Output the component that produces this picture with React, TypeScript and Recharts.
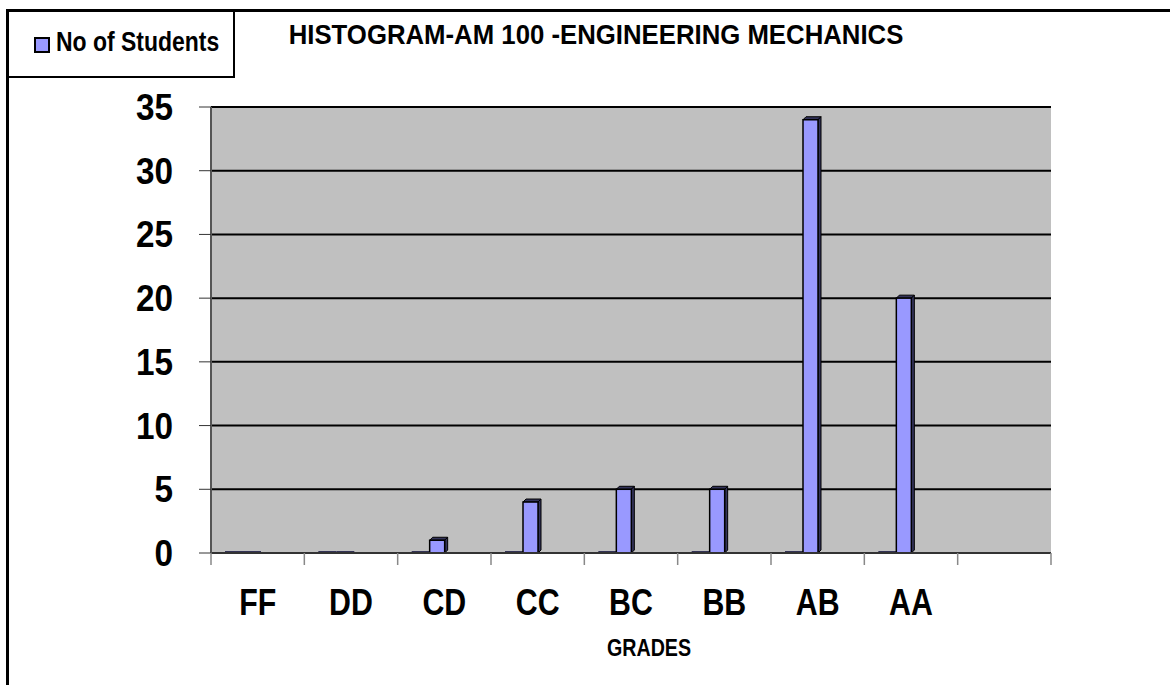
import React from 'react';
import { BarChart, Bar, XAxis, YAxis, CartesianGrid } from 'recharts';

const grades = ['FF', 'DD', 'CD', 'CC', 'BC', 'BB', 'AB', 'AA', ''];
const baseline = [0, 0, 0, 0, 0, 0, 0, 0, null];
const students = [0, 0, 1, 4, 5, 5, 34, 20, null];
const yTicks = [0, 5, 10, 15, 20, 25, 30, 35];

const data = grades.map((g, i) => ({ grade: g, base: baseline[i], students: students[i] }));

const FONT = '"Liberation Sans", Arial, sans-serif';
const W = 1170;
const H = 685;
const PLOT_LEFT = 211;
const PLOT_RIGHT = 1051;
const PLOT_TOP = 107;
const PLOT_BOTTOM = 553;
const Y_AXIS_W = 60;
const X_AXIS_H = 70;
const BAND = (PLOT_RIGHT - PLOT_LEFT) / grades.length;
const SHIFT = -15; // excel 3d offset
const DEPTH = 3;

// no arial narrow installed, so squeeze arial horizontally
const NarrowText = ({ x, y, size, anchor = 'middle', squeeze = 0.82, children }: any) => (
  <text
    transform={`translate(${x},${y}) scale(${squeeze},1)`}
    textAnchor={anchor}
    fontFamily={FONT}
    fontWeight="bold"
    fontSize={size}
    fill="#000"
  >
    {children}
  </text>
);

const Bar3D = (props: any) => {
  const { x, y, width, height, value } = props;
  if (value === null || value === undefined) return null;
  const bx = x + SHIFT;
  if (!height || height < 1) {
    return <rect x={bx} y={y - 2} width={width} height={2} fill="#333355" />;
  }
  const fw = width - DEPTH;
  return (
    <g>
      <polygon
        points={`${bx},${y} ${bx + DEPTH},${y - DEPTH} ${bx + fw + DEPTH},${y - DEPTH} ${bx + fw},${y}`}
        fill="#33335a" stroke="#000" strokeWidth={1}
      />
      <polygon
        points={`${bx + fw},${y} ${bx + fw + DEPTH},${y - DEPTH} ${bx + fw + DEPTH},${y + height - DEPTH} ${bx + fw},${y + height}`}
        fill="#33335a" stroke="#000" strokeWidth={1}
      />
      <rect x={bx} y={y} width={fw} height={height} fill="#9999ff" stroke="#000" strokeWidth={1.5} />
    </g>
  );
};

const GradeTick = (props: any) => {
  const { x, payload, index } = props;
  const left = x - BAND / 2;
  return (
    <g>
      <line x1={left} y1={PLOT_BOTTOM} x2={left} y2={PLOT_BOTTOM + 12} stroke="#888" strokeWidth={1.5} />
      {index === grades.length - 1 && (
        <line x1={left + BAND} y1={PLOT_BOTTOM} x2={left + BAND} y2={PLOT_BOTTOM + 12} stroke="#888" strokeWidth={1.5} />
      )}
      <NarrowText x={x} y={615} size={37}>{payload.value}</NarrowText>
    </g>
  );
};

const CountTick = (props: any) => {
  const { x, y, payload } = props;
  return (
    <NarrowText x={x} y={y + 13} size={37} anchor="end" squeeze={0.9}>{payload.value}</NarrowText>
  );
};

export default function App() {
  return (
    <div style={{ position: 'relative', width: W, height: H, background: '#fff' }}>
      <style>{'body{margin:0}'}</style>
      <div style={{ position: 'absolute', left: 0, top: 0 }}>
        <BarChart
          width={W}
          height={H}
          data={data}
          barGap={0}
          barSize={18}
          margin={{ left: PLOT_LEFT - Y_AXIS_W, right: W - PLOT_RIGHT, top: PLOT_TOP, bottom: H - PLOT_BOTTOM - X_AXIS_H }}
        >
          <CartesianGrid vertical={false} fill="#c0c0c0" stroke="#000" strokeWidth={2} />
          <XAxis
            dataKey="grade"
            height={X_AXIS_H}
            tickLine={false}
            axisLine={{ stroke: '#333', strokeWidth: 2 }}
            tick={<GradeTick />}
            interval={0}
          />
          <YAxis
            domain={[0, 35]}
            ticks={yTicks}
            width={Y_AXIS_W}
            tickSize={12}
            tickMargin={26}
            tickLine={{ stroke: '#333', strokeWidth: 1 }}
            axisLine={{ stroke: '#555', strokeWidth: 2 }}
            tick={<CountTick />}
          />
          <Bar dataKey="base" shape={<Bar3D />} isAnimationActive={false} />
          <Bar dataKey="students" shape={<Bar3D />} isAnimationActive={false} />
        </BarChart>
      </div>
      <svg width={W} height={H} style={{ position: 'absolute', left: 0, top: 0, pointerEvents: 'none' }}>
        <line x1={7} y1={10.5} x2={W} y2={10.5} stroke="#000" strokeWidth={3} />
        <line x1={7.5} y1={9} x2={7.5} y2={H} stroke="#000" strokeWidth={3} />
        <polyline points="7,77 234,77 234,10" fill="none" stroke="#000" strokeWidth={2} />
        <rect x={35} y={38} width={14} height={14} fill="#9999ff" stroke="#000" strokeWidth={2} />
        <NarrowText x={56} y={51} size={28} anchor="start">No of Students</NarrowText>
        <NarrowText x={596} y={44} size={28} squeeze={0.92}>HISTOGRAM-AM 100 -ENGINEERING MECHANICS</NarrowText>
        <NarrowText x={(PLOT_LEFT + PLOT_RIGHT) / 2 + 18} y={656} size={24}>GRADES</NarrowText>
      </svg>
    </div>
  );
}
